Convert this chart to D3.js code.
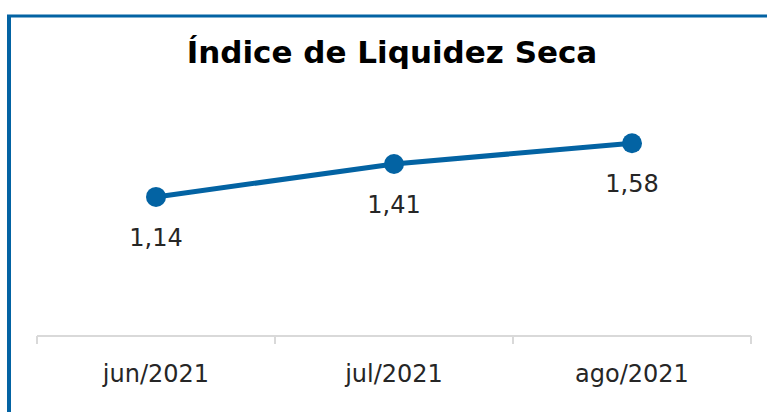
<!DOCTYPE html>
<html>
<meta charset="utf-8"/>
<head>
  <title>Indice de Liquidez Seca</title>
  <script src="https://d3js.org/d3.v7.min.js" charset="utf-8"></script>
  <style>
    body { margin: 0; background: #fff; }
    svg { display: block; }
  </style>
</head>
<body>
<script>
  // data
  var months = ['jun/2021', 'jul/2021', 'ago/2021'];
  var values = [1.14, 1.41, 1.58];
  var labels = ['1,14', '1,41', '1,58'];
  var titleText = 'Índice de Liquidez Seca';

  var W = 767, H = 412;
  var blue = '#0363a3';
  var font = '"DejaVu Sans", sans-serif';

  var svg = d3.select('body').append('svg')
      .attr('width', W)
      .attr('height', H);

  // frame (top + left only)
  svg.append('line').attr('x1', 7).attr('x2', W).attr('y1', 16).attr('y2', 16)
     .style('stroke', blue).style('stroke-width', 3);
  svg.append('line').attr('x1', 9).attr('x2', 9).attr('y1', 15).attr('y2', H)
     .style('stroke', blue).style('stroke-width', 4);

  svg.append('text')
     .attr('x', 392).attr('y', 63)
     .attr('text-anchor', 'middle')
     .style('font-family', font)
     .style('font-weight', 'bold')
     .style('font-size', '31px')
     .style('fill', '#000')
     .text(titleText);

  var x = d3.scaleBand().domain(months).range([37, 751]);
  var y = d3.scaleLinear().domain([0, 2]).range([336, 92]);

  // x axis
  var axis = svg.append('g')
     .attr('transform', 'translate(0,336)')
     .call(d3.axisBottom(x).tickSize(0).tickPadding(0));
  axis.select('.domain').remove();
  axis.selectAll('text').remove();
  axis.append('line').attr('x1', 37).attr('x2', 751)
     .style('stroke', '#d9d9d9').style('stroke-width', 2);
  // tick marks at category boundaries
  var bounds = months.map(function(m) { return x(m); }).concat([x(months[2]) + x.bandwidth()]);
  axis.selectAll('.bnd').data(bounds).enter().append('line')
     .attr('x1', function(d) { return d; }).attr('x2', function(d) { return d; })
     .attr('y1', 0).attr('y2', 8)
     .style('stroke', '#d9d9d9').style('stroke-width', 2);
  axis.selectAll('.lbl').data(months).enter().append('text')
     .attr('x', function(d) { return x(d) + x.bandwidth() / 2; })
     .attr('y', 46)
     .attr('text-anchor', 'middle')
     .style('font-family', font)
     .style('font-size', '24px')
     .style('fill', '#262626')
     .text(function(d) { return d; });

  var cx = function(d, i) { return x(months[i]) + x.bandwidth() / 2; };

  var line = d3.line()
     .x(function(d, i) { return cx(d, i); })
     .y(function(d) { return y(d); });

  svg.append('path')
     .datum(values)
     .attr('d', line)
     .style('fill', 'none')
     .style('stroke', blue)
     .style('stroke-width', 5);

  svg.selectAll('.dot').data(values).enter().append('circle')
     .attr('cx', cx)
     .attr('cy', function(d) { return y(d); })
     .attr('r', 10)
     .style('fill', blue);

  svg.selectAll('.val').data(values).enter().append('text')
     .attr('x', cx)
     .attr('y', function(d) { return y(d) + 49; })
     .attr('text-anchor', 'middle')
     .style('font-family', font)
     .style('font-size', '24px')
     .style('fill', '#262626')
     .text(function(d, i) { return labels[i]; });
</script>
</body>
</html>
